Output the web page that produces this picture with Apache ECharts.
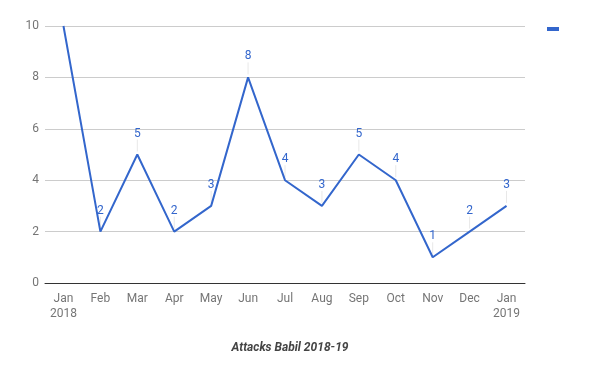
<!DOCTYPE html>
<html><head><meta charset="utf-8">
<script src="https://cdn.jsdelivr.net/npm/echarts@6/dist/echarts.min.js"></script>
<style>html,body{margin:0;padding:0;background:#fff}#c{width:600px;height:371px}</style>
</head><body><div id="c"></div>
<script>
const categories = ['Jan\n2018','Feb','Mar','Apr','May','Jun','Jul','Aug','Sep','Oct','Nov','Dec','Jan\n2019'];
const attacks = [10,2,5,2,3,8,4,3,5,4,1,2,3];
const yTicks = [0,2,4,6,8,10];
const yMax = yTicks[yTicks.length-1];
const chart = echarts.init(document.getElementById('c'), null, {renderer:'canvas'});
chart.setOption({
  animation:false,
  textStyle:{fontFamily:'Roboto'},
  title:{text:'Attacks Babil 2018-19',left:285,textAlign:'center',top:337,
    textStyle:{fontSize:12,fontWeight:'bold',fontStyle:'italic',color:'#444',fontFamily:'Roboto'}},
  legend:{right:36,top:22,icon:'rect',itemWidth:12,itemHeight:4,formatter:()=>'',
    data:['Attacks'],itemGap:0},
  grid:{left:45,right:75,top:26,bottom:88,containLabel:false},
  xAxis:{type:'category',data:categories,boundaryGap:true,
    axisLine:{lineStyle:{color:'#333',width:1}},axisTick:{show:false},
    axisLabel:{color:'#757575',fontSize:12,lineHeight:15,margin:8,interval:0}},
  yAxis:{type:'value',min:yTicks[0],max:yMax,interval:2,
    axisLine:{show:false},axisTick:{show:false},
    splitLine:{lineStyle:{color:'#ccc'}},
    axisLabel:{color:'#757575',fontSize:12,margin:6}},
  series:[
  {name:'stems',type:'custom',data:attacks.map((v,i)=>[i,v]),z:1,silent:true,
    renderItem:function(params,api){
      if (api.value(1) >= yMax) return null;
      const p = api.coord([api.value(0),api.value(1)]);
      return {type:'line',shape:{x1:p[0],y1:p[1]-3,x2:p[0],y2:p[1]-15},
        style:{stroke:'#e8e8e8',lineWidth:1}};
    }},
  {name:'Attacks',type:'line',
    data:attacks.map(v=>({value:v,label:{show:v<yMax}})),
    symbol:'circle',symbolSize:0,z:2,
    lineStyle:{color:'#3366CC',width:2},itemStyle:{color:'#3366CC'},
    label:{show:true,position:'top',distance:15,color:'#3366CC',fontSize:12}
  }]
});
</script></body></html>
